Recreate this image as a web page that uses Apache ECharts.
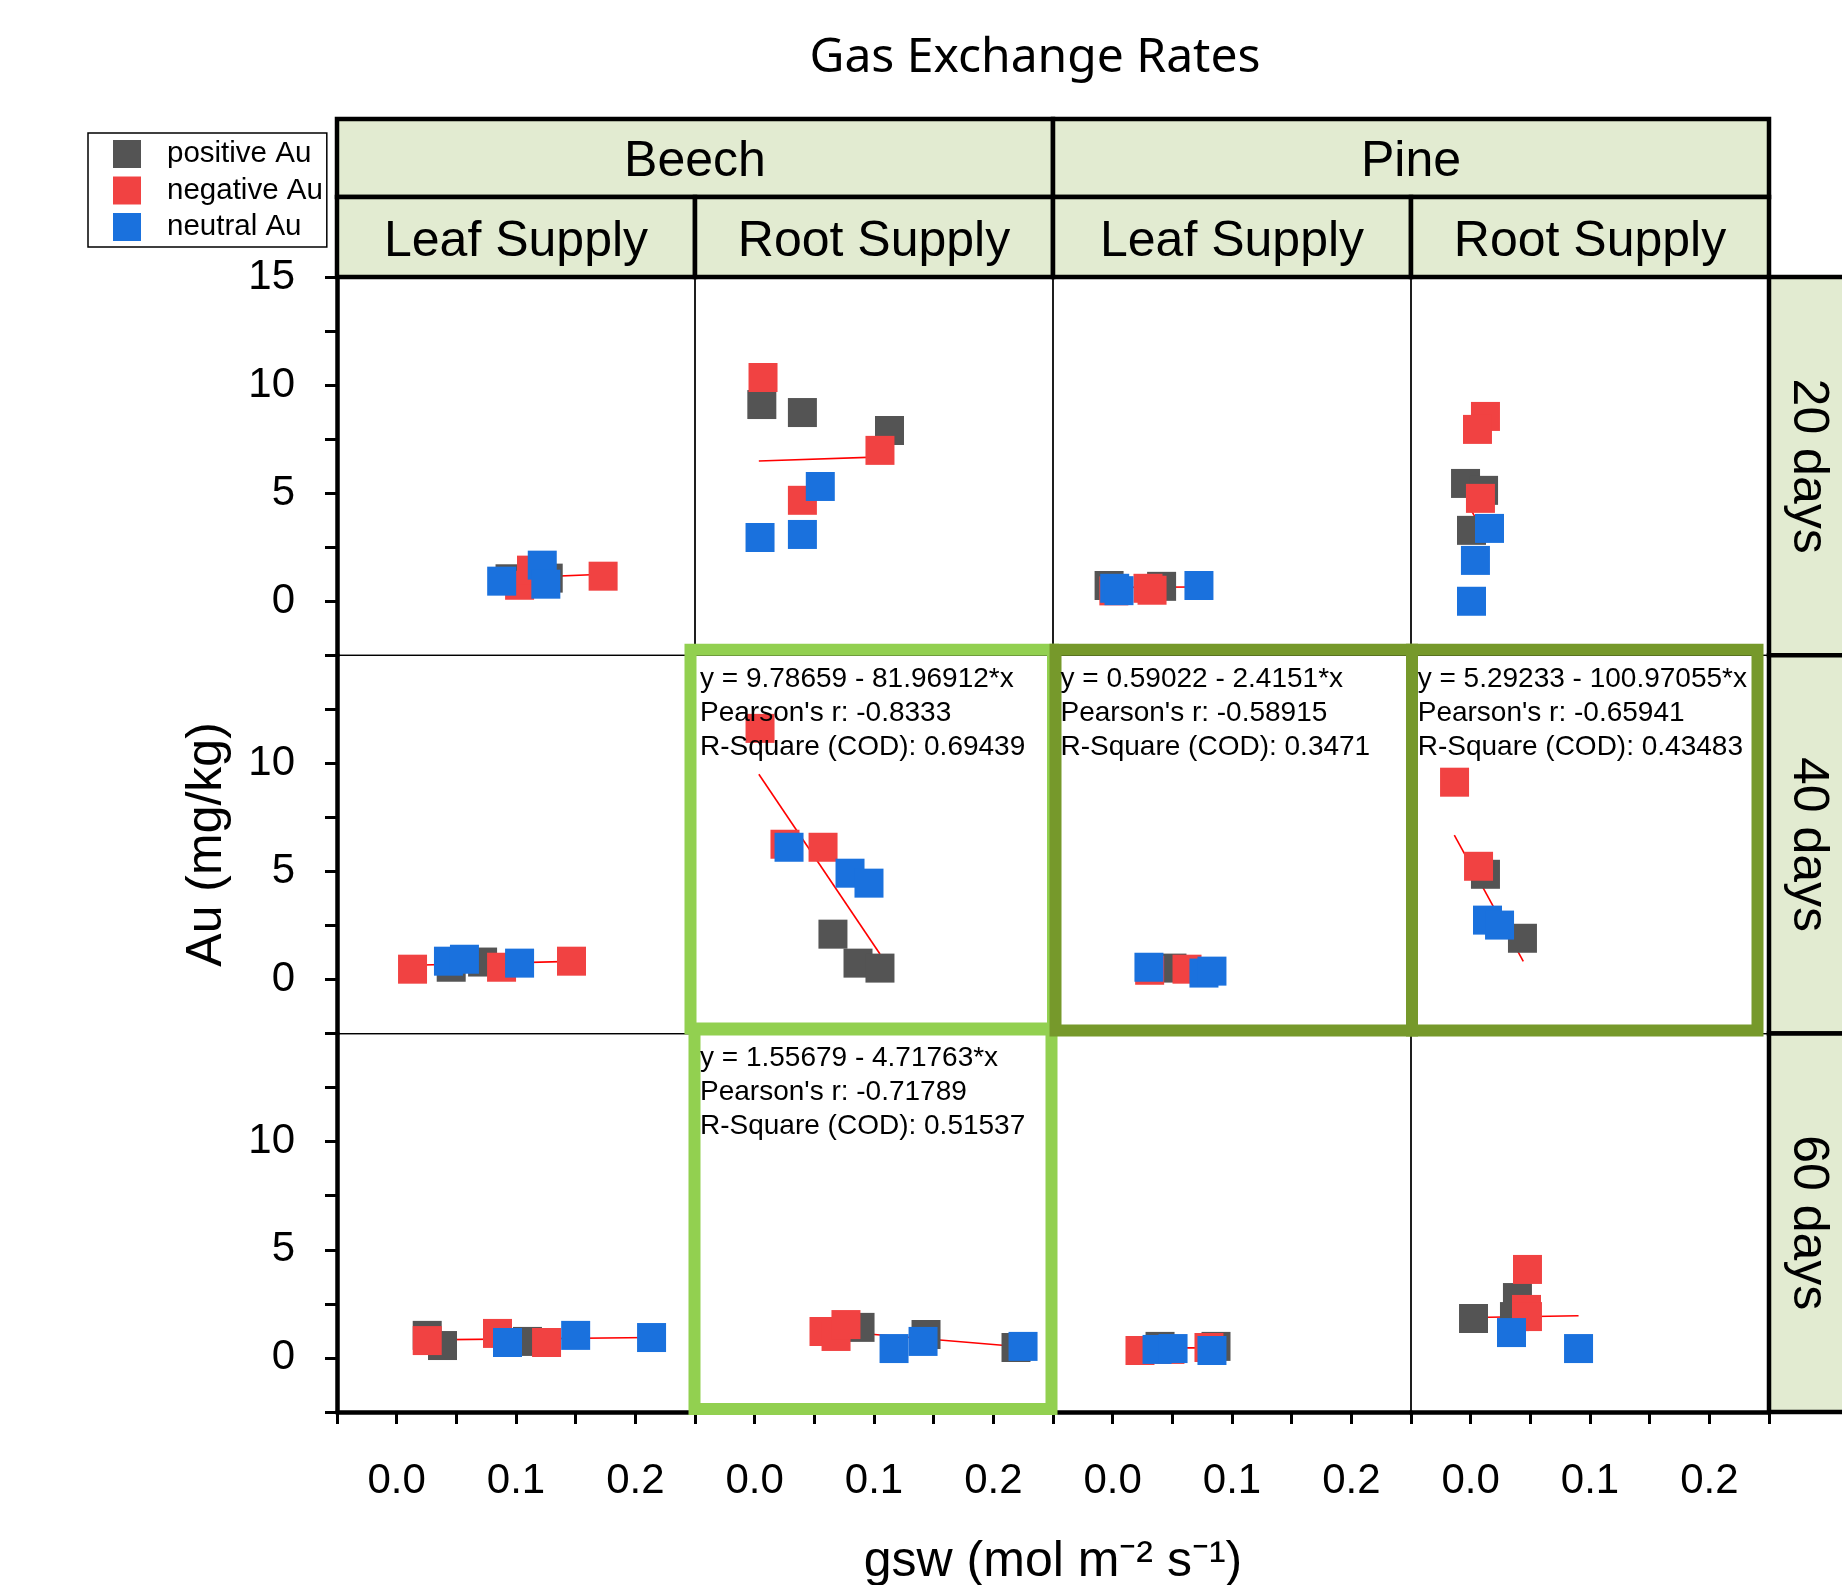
<!DOCTYPE html>
<html><head><meta charset="utf-8">
<script src="https://cdn.jsdelivr.net/npm/echarts@6/dist/echarts.min.js"></script>
<style>html,body{margin:0;padding:0;background:#fff}#c{width:1842px;height:1585px}</style>
</head><body><div id="c"></div>
<script>
// ---------- labels ----------
const groups = ['positive Au', 'negative Au', 'neutral Au'];
const species = ['Beech', 'Pine'];
const supplies = ['Leaf Supply', 'Root Supply', 'Leaf Supply', 'Root Supply'];
const periods = ['20 days', '40 days', '60 days'];
const xTickLabels = {0: '0.0', 10: '0.1', 20: '0.2'};
const yTickLabels = {0: '0', 5: '5', 10: '10', 15: '15'};
const xTitle = 'gsw (mol m\u207B\u00B2 s\u207B\u00B9)';
const yTitle = 'Au (mg/kg)';
const mainTitle = 'Gas Exchange Rates';

// ---------- data: [gsw, Au] per group, fit-line end points ----------
const beechLeaf20 = {pos: [[0.095,1.04],[0.127,1.07]], neg: [[0.103,0.74],[0.113,1.44],[0.173,1.16]], neu: [[0.088,0.93],[0.122,1.67],[0.125,0.79]], fit: [[0.088,1.06],[0.173,1.25]]};
const beechRoot20 = {pos: [[0.006,9.1],[0.040,8.73],[0.113,7.9]], neg: [[0.007,10.35],[0.105,6.98],[0.040,4.67]], neu: [[0.055,5.31],[0.0045,2.95],[0.040,3.09]], fit: [[0.0035,6.49],[0.113,6.69]]};
const pineLeaf20 = {pos: [[-0.003,0.73],[0.041,0.69]], neg: [[0.001,0.48],[0.0296,0.60],[0.033,0.51]], neu: [[0.0017,0.60],[0.0053,0.49],[0.0723,0.73]], fit: [[-0.003,0.64],[0.072,0.66]]};
const pineRoot20 = {pos: [[-0.0043,5.45],[0.0108,5.13],[0.0007,3.28]], neg: [[0.0124,8.55],[0.0057,7.95],[0.0082,4.76]], neu: [[0.0158,3.37],[0.004,1.89],[0.0007,0.0]], fit: [[0.0,4.26],[0.012,3.06]]};
const beechLeaf40 = {pos: [[0.0457,0.57],[0.072,0.81]], neg: [[0.0133,0.48],[0.0879,0.57],[0.1465,0.85]], neu: [[0.0434,0.85],[0.0568,0.94],[0.103,0.76]], fit: [[0.0133,0.66],[0.1465,0.84]]};
const beechRoot40 = {pos: [[0.0656,2.10],[0.0866,0.76],[0.105,0.53]], neg: [[0.0045,11.62],[0.0254,6.26],[0.0573,6.12]], neu: [[0.0288,6.12],[0.0799,4.92],[0.0958,4.46]], fit: [[0.0035,9.50],[0.105,1.18]]};
const pineLeaf40 = {pos: [[0.0497,0.53]], neg: [[0.031,0.43],[0.0623,0.48]], neu: [[0.0304,0.57],[0.0765,0.30],[0.0832,0.39]], fit: [[0.0304,0.517],[0.0832,0.389]]};
const pineRoot40 = {pos: [[0.0124,4.87],[0.0434,1.91]], neg: [[-0.0135,9.13],[0.0066,5.24]], neu: [[0.0141,2.75],[0.0242,2.52]], fit: [[-0.0137,6.68],[0.0441,0.84]]};
const beechLeaf60 = {pos: [[0.0256,1.04],[0.0384,0.57],[0.1096,0.76]], neg: [[0.0256,0.80],[0.0845,1.13],[0.1256,0.71]], neu: [[0.0929,0.71],[0.150,1.04],[0.2136,0.94]], fit: [[0.0256,0.83],[0.2136,0.94]]};
const beechRoot60 = {pos: [[0.0883,1.41],[0.1436,1.08],[0.219,0.48]], neg: [[0.0581,1.22],[0.0682,0.99],[0.0765,1.54]], neu: [[0.1168,0.43],[0.1411,0.76],[0.2249,0.53]], fit: [[0.0581,1.28],[0.2249,0.50]]};
const pineLeaf60 = {pos: [[0.0397,0.53],[0.0866,0.53]], neg: [[0.0229,0.34],[0.048,0.39],[0.0807,0.48]], neu: [[0.0372,0.39],[0.0506,0.43],[0.0832,0.34]], fit: [[0.0229,0.46],[0.0866,0.46]]};
const pineRoot60 = {pos: [[0.0024,1.82],[0.0392,2.79],[0.0367,1.91]], neg: [[0.0476,4.09],[0.0468,2.24],[0.0476,1.91]], neu: [[0.0342,1.17],[0.0904,0.43]], fit: [[0.0024,1.87],[0.0904,1.95]]};

const fitNoteBR40 = ['y = 9.78659 - 81.96912*x', "Pearson's r: -0.8333", 'R-Square (COD): 0.69439'];
const fitNotePL40 = ['y = 0.59022 - 2.4151*x', "Pearson's r: -0.58915", 'R-Square (COD): 0.3471'];
const fitNotePR40 = ['y = 5.29233 - 100.97055*x', "Pearson's r: -0.65941", 'R-Square (COD): 0.43483'];
const fitNoteBR60 = ['y = 1.55679 - 4.71763*x', "Pearson's r: -0.71789", 'R-Square (COD): 0.51537'];

const panels = [beechLeaf20, beechRoot20, pineLeaf20, pineRoot20,
                beechLeaf40, beechRoot40, pineLeaf40, pineRoot40,
                beechLeaf60, beechRoot60, pineLeaf60, pineRoot60];

// ---------- layout / style ----------
const L0 = 337, CW = 358, T0 = 277, RH = 378.3;
const colors = {pos: '#545454', neg: '#f14242', neu: '#1a71dd'};
const stripFill = '#e2ebd1';
const lightGreen = '#92d050', darkGreen = '#76992b';
const ARIAL = 'Liberation Sans, Arial, sans-serif';
const thick = 4.5;

const grids = [], xAxes = [], yAxes = [], series = [];
panels.forEach((p, i) => {
  const r = Math.floor(i / 4), c = i % 4;
  grids.push({left: L0 + c * CW, top: T0 + r * RH, width: CW, height: RH,
    show: true, borderColor: '#000', borderWidth: 1.3, backgroundColor: 'transparent', outerBoundsMode: 'none'});
  const bottom = r === 2, leftCol = c === 0;
  xAxes.push({type: 'value', gridIndex: i, min: -0.05, max: 0.25, interval: 0.05,
    axisLine: {show: bottom, onZero: false, lineStyle: {color: '#000', width: thick}},
    axisTick: {show: bottom, length: 12, lineStyle: {color: '#000', width: 3}},
    axisLabel: {show: bottom, margin: 49, fontSize: 42, fontFamily: ARIAL, color: '#000',
      formatter: v => { const k = Math.round(v * 100); return xTickLabels[k] !== undefined ? xTickLabels[k] : ''; }},
    splitLine: {show: false}});
  yAxes.push({type: 'value', gridIndex: i, min: -2.5, max: 15, interval: 2.5,
    axisLine: {show: leftCol, onZero: false, lineStyle: {color: '#000', width: thick}},
    axisTick: {show: leftCol, length: 12, lineStyle: {color: '#000', width: 3}},
    axisLabel: {show: leftCol, margin: 42, fontSize: 42, fontFamily: ARIAL, color: '#000',
      formatter: v => { if (v < 0) return ''; if (v >= 15 && r > 0) return ''; return yTickLabels[v] !== undefined ? yTickLabels[v] : ''; }},
    splitLine: {show: false}});
  series.push({type: 'line', xAxisIndex: i, yAxisIndex: i, data: p.fit, symbol: 'none', silent: true,
    lineStyle: {color: '#ff0000', width: 1.6}, z: 1, animation: false});
  [['pos', 0], ['neg', 1], ['neu', 2]].forEach(([k, g]) => {
    series.push({type: 'scatter', name: groups[g], xAxisIndex: i, yAxisIndex: i, data: p[k],
      symbol: 'rect', symbolSize: 29, itemStyle: {color: colors[k], opacity: 1}, z: 2 + g, animation: false});
  });
});

const graphic = [];
// top strips: species
species.forEach((s, k) => {
  const x = L0 + k * 2 * CW;
  graphic.push({type: 'rect', z: 10, shape: {x: x, y: 119, width: 2 * CW, height: 78},
    style: {fill: stripFill, stroke: '#000', lineWidth: thick}});
  graphic.push({type: 'text', z: 11, x: x + CW, y: 162,
    style: {text: s, align: 'center', verticalAlign: 'middle', fontSize: 50, fontFamily: ARIAL, fill: '#000'}});
});
supplies.forEach((s, c) => {
  const x = L0 + c * CW;
  graphic.push({type: 'rect', z: 10, shape: {x: x, y: 197, width: CW, height: 80},
    style: {fill: stripFill, stroke: '#000', lineWidth: thick}});
  graphic.push({type: 'text', z: 11, x: x + CW / 2, y: 242,
    style: {text: s, align: 'center', verticalAlign: 'middle', fontSize: 50, fontFamily: ARIAL, fill: '#000'}});
});
periods.forEach((s, r) => {
  const y = T0 + r * RH;
  graphic.push({type: 'rect', z: 10, shape: {x: L0 + 4 * CW, y: y, width: 90, height: RH},
    style: {fill: stripFill, stroke: '#000', lineWidth: thick}});
  graphic.push({type: 'text', z: 11, x: L0 + 4 * CW + 39, y: y + RH / 2, rotation: -Math.PI / 2,
    style: {text: s, align: 'center', verticalAlign: 'middle', fontSize: 50, fontFamily: ARIAL, fill: '#000'}});
});
// highlight boxes (panel row, col, offsets l,t,r,b)
const boxes = [
  [1, 1, lightGreen, -4.5, -5.5, 0, -5],
  [2, 1, lightGreen, -0.5, -4, -1.5, -3],
  [1, 2, darkGreen, 2.5, -5.5, 1, -3],
  [1, 3, darkGreen, 1, -5.5, -11.5, -3]
];
boxes.forEach(([r, c, col, dl, dt, dr, db]) => {
  const x0 = L0 + c * CW + dl, y0 = T0 + r * RH + dt;
  const x1 = L0 + (c + 1) * CW + dr, y1 = T0 + (r + 1) * RH + db;
  graphic.push({type: 'rect', z: 100, shape: {x: x0, y: y0, width: x1 - x0, height: y1 - y0},
    style: {fill: 'none', stroke: col, lineWidth: 12}});
});
// fit notes
const notes = [[1, 1, fitNoteBR40, 5, 6.5], [1, 2, fitNotePL40, 7.5, 6.5], [1, 3, fitNotePR40, 6.7, 6.5], [2, 1, fitNoteBR60, 5, 7.5]];
notes.forEach(([r, c, lines, dx, dy]) => {
  graphic.push({type: 'text', z: 101, x: L0 + c * CW + dx, y: T0 + r * RH + dy,
    style: {text: lines.join('\n'), align: 'left', verticalAlign: 'top', fontSize: 28, lineHeight: 34, fontFamily: ARIAL, fill: '#000'}});
});
// axis titles
graphic.push({type: 'text', z: 11, x: 207, y: T0 + 1.5 * RH, rotation: Math.PI / 2,
  style: {text: yTitle, align: 'center', verticalAlign: 'middle', fontSize: 50, fontFamily: ARIAL, fill: '#000'}});
graphic.push({type: 'text', z: 11, x: L0 + 2 * CW, y: 1562,
  style: {text: xTitle, align: 'center', verticalAlign: 'middle', fontSize: 50, fontFamily: ARIAL, fill: '#000'}});

const chart = echarts.init(document.getElementById('c'), null, {renderer: 'canvas'});
chart.setOption({
  animation: false,
  backgroundColor: '#fff',
  title: {text: mainTitle, left: 1035, top: 34, textAlign: 'center', padding: 0,
    textStyle: {fontSize: 48, fontWeight: 'normal', fontFamily: 'Noto Sans, Open Sans, sans-serif', color: '#000'}},
  legend: {data: groups.map(g => ({name: g, icon: 'rect'})), orient: 'vertical', left: 88, top: 133,
    padding: [6, 4, 5, 25], itemWidth: 28, itemHeight: 28, itemGap: 6.5,
    borderColor: '#000', borderWidth: 1.5, backgroundColor: '#fff',
    textStyle: {fontSize: 29.5, fontFamily: ARIAL, color: '#000', padding: [0, 0, 0, 21]}, selectedMode: false},
  grid: grids, xAxis: xAxes, yAxis: yAxes, series: series, graphic: graphic
});
</script></body></html>
